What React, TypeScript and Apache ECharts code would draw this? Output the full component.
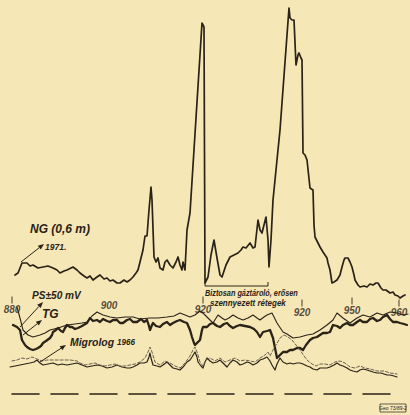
import React, { useEffect, useRef } from "react";
import * as echarts from "echarts";

const ngCurve: number[][] = [
  [15,275],[18,273],[22,263],[27,263],[30,266],[33,265],[38,268],[43,267],[48,266],[53,268],[57,270],[60,273],[64,271],[67,270],[73,267],[77,270],[80,273],[84,276],[87,278],[90,276],[93,280],[97,277],[100,275],[104,279],[107,278],[110,281],[113,280],[117,283],[120,283],[124,280],[127,282],[130,280],[133,277],[136,273],[138,270],[141,258],[143,250],[145,236],[147,236],[149,210],[151,187],[152,200],[154,257],[156,262],[158,258],[160,268],[163,270],[165,262],[167,260],[170,265],[173,268],[176,262],[178,257],[180,265],[182,270],[183,262],[185,270],[187,230],[190,213],[202,23],[204,27],[205,283],[208,277],[211,255],[214,240],[217,258],[220,275],[222,277],[226,265],[230,257],[234,255],[238,253],[241,250],[243,247],[246,248],[250,243],[253,248],[255,247],[258,220],[260,230],[262,233],[264,225],[266,217],[268,240],[269,267],[271,240],[273,200],[280,130],[289,8],[290,18],[292,20],[294,20],[296,65],[298,55],[299,53],[301,58],[302,60],[303,153],[305,155],[307,160],[310,188],[313,190],[314,225],[315,237],[318,243],[320,247],[323,252],[325,255],[327,258],[328,263],[330,270],[332,283],[334,282],[337,280],[340,275],[342,267],[344,260],[345,258],[348,258],[350,262],[352,267],[354,275],[355,280],[358,285],[360,287],[364,286],[367,287],[370,284],[373,285],[376,283],[378,283],[381,288],[383,290],[386,290],[390,293],[393,292],[395,295],[398,296],[400,298],[403,296],[405,295]
];

const psCurve: number[][] = [
  [17,307],[20,318],[23,330],[28,335],[33,337],[40,335],[45,333],[50,330],[58,328],[67,325],[75,324],[82,323],[87,322],[92,316],[97,312],[103,315],[110,317],[117,318],[125,317],[133,317],[140,319],[150,318],[158,318],[167,317],[174,316],[180,313],[185,315],[190,317],[195,315],[200,311],[204,314],[207,317],[213,323],[218,315],[222,318],[225,320],[229,318],[233,315],[238,318],[243,320],[248,318],[253,315],[257,318],[260,320],[264,317],[267,315],[272,313],[277,323],[283,332],[287,334],[293,338],[300,337],[307,335],[313,334],[320,330],[327,325],[333,320],[337,313],[343,318],[350,323],[357,318],[363,315],[370,317],[377,313],[383,315],[390,312],[397,313],[403,315],[408,314]
];

const tgCurve: number[][] = [
  [13,325],[17,327],[20,330],[22,340],[25,345],[27,347],[30,349],[33,350],[36,349],[38,348],[41,346],[43,343],[46,341],[50,338],[52,335],[53,332],[56,330],[58,328],[61,331],[63,332],[65,328],[67,325],[70,327],[72,327],[75,329],[78,328],[82,326],[87,323],[90,318],[93,321],[97,320],[100,322],[103,319],[107,321],[110,322],[113,320],[117,320],[120,323],[123,323],[127,320],[130,319],[133,322],[137,322],[141,319],[144,322],[147,320],[149,326],[150,330],[152,325],[153,323],[156,326],[160,327],[163,324],[167,322],[170,325],[173,323],[177,321],[180,320],[184,322],[187,323],[190,330],[192,337],[194,343],[195,345],[197,343],[200,340],[202,330],[203,327],[207,327],[210,324],[213,323],[217,326],[220,327],[224,324],[227,323],[230,326],[233,328],[237,326],[240,325],[245,326],[250,327],[254,329],[257,332],[260,337],[263,332],[267,331],[270,330],[273,338],[275,348],[277,358],[280,355],[283,352],[287,352],[290,350],[293,350],[297,348],[300,348],[303,350],[306,345],[310,340],[313,338],[317,337],[320,335],[323,333],[327,333],[330,332],[333,325],[337,326],[340,328],[343,325],[347,323],[350,325],[353,325],[357,322],[360,320],[363,322],[367,322],[370,319],[373,318],[377,321],[380,320],[383,317],[387,315],[390,319],[393,322],[397,322],[400,323],[404,324],[407,325]
];

const migrologSolid: number[][] = [
  [10,367],[15,366],[20,365],[25,364],[30,363],[34,362],[37,360],[40,363],[43,365],[48,364],[53,363],[58,365],[62,364],[67,365],[72,364],[77,363],[82,365],[87,367],[92,366],[97,365],[102,366],[107,368],[112,367],[117,365],[122,367],[127,368],[130,368],[133,367],[137,365],[140,363],[144,363],[147,362],[149,357],[150,353],[151,358],[153,365],[157,366],[160,367],[163,365],[167,362],[170,365],[173,368],[177,369],[180,370],[184,366],[187,362],[190,360],[192,357],[195,352],[197,357],[198,362],[201,366],[203,368],[205,362],[207,358],[210,361],[213,363],[217,362],[220,360],[223,363],[227,367],[230,363],[233,360],[237,362],[240,365],[243,364],[247,362],[250,363],[253,365],[257,363],[260,360],[263,359],[267,357],[270,361],[272,365],[275,370],[277,364],[280,358],[283,362],[287,364],[290,363],[293,364],[297,363],[300,363],[303,364],[307,366],[310,367],[313,369],[317,370],[320,368],[323,368],[327,368],[330,367],[334,365],[337,363],[340,365],[343,366],[347,368],[350,370],[353,371],[357,372],[360,370],[363,369],[367,370],[370,371],[373,372],[377,373],[381,373],[384,374],[387,375],[390,375],[394,376],[397,377]
];

const migrologDashed: number[][] = [
  [12,361],[17,360],[22,358],[27,359],[32,357],[37,359],[42,361],[47,360],[55,360],[62,360],[70,360],[77,361],[80,363],[85,365],[90,364],[95,363],[100,365],[105,366],[110,365],[115,364],[120,366],[125,366],[130,365],[135,364],[140,362],[145,358],[148,352],[150,347],[152,352],[155,362],[160,365],[165,361],[170,363],[175,366],[180,368],[185,363],[190,356],[193,350],[195,347],[197,352],[200,362],[203,366],[206,360],[210,358],[215,361],[220,358],[225,362],[230,360],[235,358],[240,361],[245,360],[250,361],[255,362],[260,358],[265,355],[268,352],[270,356],[273,350],[276,345],[280,338],[284,335],[288,337],[292,340],[296,345],[300,350],[304,356],[308,361],[312,364],[316,366],[320,364],[325,364],[330,365],[335,362],[340,361],[345,363],[350,367],[355,368],[360,366],[365,368],[370,369],[377,371],[384,371],[390,373],[397,374]
];

const baseLine: number[][] = [[12,394],[402,394]];

const depthLabels = ["880", "900", "920", "920", "950", "960"];
const depthTickX = [12, 109, 203, 302, 352, 399];
const depthTickY = [300, 299, 300, 303, 301, 303];
const depthTickShown = [true, false, true, true, true, true];

const INK = "#2a2317";
const PAPER = "#f6e7b7";

export default function App() {
  const ref = useRef<HTMLDivElement>(null);
  useEffect(() => {
    document.body.style.margin = "0";
    document.body.style.background = PAPER;
    const chart = echarts.init(ref.current!, undefined, { renderer: "svg" });

    const txt = (x: number, y: number, text: string, size: number, sx = 1) => ({
      type: "text",
      x,
      y,
      scaleX: sx,
      style: {
        text,
        fill: INK,
        font: `italic bold ${size}px "Liberation Sans", sans-serif`,
        textVerticalAlign: "middle",
      },
      z: 20,
    });

    const arrow = (x1: number, y1: number, x2: number, y2: number) => {
      const ang = Math.atan2(y2 - y1, x2 - x1);
      const L = 6, W = 2.4;
      const bx = x2 - L * Math.cos(ang), by = y2 - L * Math.sin(ang);
      const px = -Math.sin(ang) * W, py = Math.cos(ang) * W;
      return [
        { type: "line", shape: { x1, y1, x2: bx, y2: by }, style: { stroke: INK, lineWidth: 1 }, z: 20 },
        { type: "polygon", shape: { points: [[x2, y2], [bx + px, by + py], [bx - px, by - py]] }, style: { fill: INK }, z: 20 },
      ];
    };

    const lineSeries = (name: string, data: number[][], width: number, type: any = "solid", color = INK) => ({
      name,
      type: "line",
      data,
      showSymbol: false,
      symbol: "none",
      smooth: false,
      lineStyle: { color, width, type, join: "round", cap: "round" },
      z: 5,
    });

    chart.setOption({
      animation: false,
      backgroundColor: PAPER,
      grid: { left: 0, right: 0, top: 0, bottom: 0 },
      xAxis: { type: "value", min: 0, max: 410, show: false },
      yAxis: { type: "value", min: 0, max: 415, inverse: true, show: false },
      series: [
        lineSeries("NG (0,6 m) 1971", ngCurve, 1.7),
        lineSeries("PS ±50 mV", psCurve, 1.1),
        lineSeries("TG", tgCurve, 2.3),
        lineSeries("Migrolog 1966", migrologSolid, 1.2),
        lineSeries("Migrolog 1966 (dashed)", migrologDashed, 1, [3, 2], "#6a604c"),
        lineSeries("base", baseLine, 1.6, [27, 12]),
        {
          type: "scatter",
          name: "depth",
          data: depthTickX.map((x, i) => [x, depthTickY[i]]),
          symbol: "rect",
          symbolSize: (_v: any, p: any) => (depthTickShown[p.dataIndex] ? [1.1, 7] : [0, 0]),
          itemStyle: { color: INK },
          label: {
            show: true,
            position: "bottom",
            distance: 1,
            formatter: (p: any) => depthLabels[p.dataIndex],
            color: INK,
            fontSize: 10,
            fontStyle: "italic",
            fontWeight: "bold",
            fontFamily: "Liberation Sans",
          },
          z: 10,
        },
      ],
      graphic: [
        txt(30, 229, "NG (0,6 m)", 12),
        txt(45, 247, "1971.", 8.5),
        ...arrow(21, 262, 44, 244),
        txt(32, 295, "PS±50 mV", 11, 0.92),
        ...arrow(20, 327, 43, 302),
        txt(42, 314, "TG", 12),
        ...arrow(23, 335, 42, 320),
        txt(70, 342, "Migrolog", 11, 0.95),
        txt(117, 342, "1966", 9, 0.9),
        ...arrow(40, 362, 66, 345),
        {
          type: "polyline",
          shape: { points: [[205, 282], [205, 286], [268, 286], [268, 282]] },
          style: { stroke: INK, lineWidth: 1, fill: "none" },
          z: 20,
        },
        txt(205, 293, "Biztosan gáztároló, erősen", 8.5, 0.86),
        txt(210, 303, "szennyezett rétegek", 8.5, 0.94),
        {
          type: "rect",
          shape: { x: 380, y: 404, width: 26, height: 8 },
          style: { stroke: INK, lineWidth: 0.7, fill: "none" },
          z: 20,
        },
        {
          type: "text",
          x: 393,
          y: 408,
          style: {
            text: "Geo 73/89-2",
            fill: INK,
            font: '5px "Liberation Sans", sans-serif',
            textAlign: "center",
            textVerticalAlign: "middle",
          },
          z: 20,
        },
      ],
    });
    return () => chart.dispose();
  }, []);
  return <div ref={ref} style={{ width: 410, height: 415, background: PAPER }} />;
}
